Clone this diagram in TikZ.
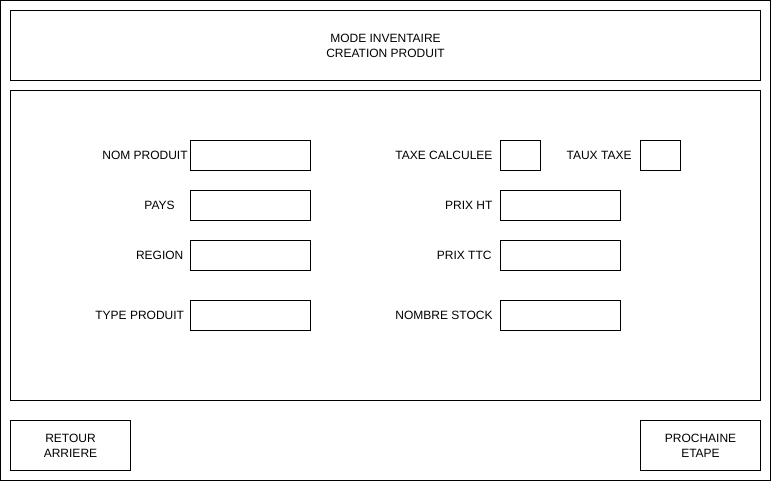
\documentclass[tikz,border=0pt]{standalone}
\usepackage{fontspec}
\setmainfont{Liberation Sans}
\usetikzlibrary{positioning}
\begin{document}
\begin{tikzpicture}[x=1pt, y=-1pt, line width=1pt]
    \tikzstyle{panel} = [draw, anchor=north west, inner sep=0pt, outer sep=0pt, text centered, align=center, font=\fontsize{12}{15}\selectfont]
    \tikzstyle{field} = [draw, anchor=north west, inner sep=0pt, outer sep=0pt, minimum width=120pt, minimum height=30pt]
    \tikzstyle{smallfield} = [field, minimum width=40pt]
    \tikzstyle{lbl} = [inner sep=0pt, font=\fontsize{12}{15}\selectfont]
    \useasboundingbox (0,0) rectangle (771,481);
    \node [panel, minimum width=770pt, minimum height=480pt] at (0.5,0.5) (frame) {};
    \node [panel, minimum width=750pt, minimum height=70pt] at (10.5,10.5) (header) {MODE INVENTAIRE\\CREATION PRODUIT};
    \node [panel, minimum width=750pt, minimum height=310pt] at (10.5,90.5) (form) {};
    \node [panel, minimum width=120pt, minimum height=50pt] at (10.5,420.5) (back) {RETOUR\\ARRIERE};
    \node [panel, minimum width=120pt, minimum height=50pt] at (640.5,420.5) (next) {PROCHAINE\\ETAPE};
    % left column
    \node [field] at (190.5,140.5) (nomf) {};
    \node [field] at (190.5,190.5) (paysf) {};
    \node [field] at (190.5,240.5) (regionf) {};
    \node [field] at (190.5,300.5) (typef) {};
    \node [lbl] at (145,155) (nomlbl) {NOM PRODUIT};
    \node [lbl] at (159.5,205) (payslbl) {PAYS};
    \node [lbl] at (159.7,255) (regionlbl) {REGION};
    \node [lbl] at (139.7,315) (typelbl) {TYPE PRODUIT};
    % right column
    \node [smallfield] at (500.5,140.5) (taxef) {};
    \node [smallfield] at (640.5,140.5) (tauxf) {};
    \node [field] at (500.5,190.5) (htf) {};
    \node [field] at (500.5,240.5) (ttcf) {};
    \node [field] at (500.5,300.5) (stockf) {};
    \node [lbl, anchor=east] at (493,155) (taxelbl) {TAXE CALCULEE};
    \node [lbl, anchor=east] at (632,155) (tauxlbl) {TAUX TAXE};
    \node [lbl, anchor=east] at (493,205) (htlbl) {PRIX HT};
    \node [lbl, anchor=east] at (492,255) (ttclbl) {PRIX TTC};
    \node [lbl, anchor=east] at (493,315) (stocklbl) {NOMBRE STOCK};
\end{tikzpicture}
\end{document}
